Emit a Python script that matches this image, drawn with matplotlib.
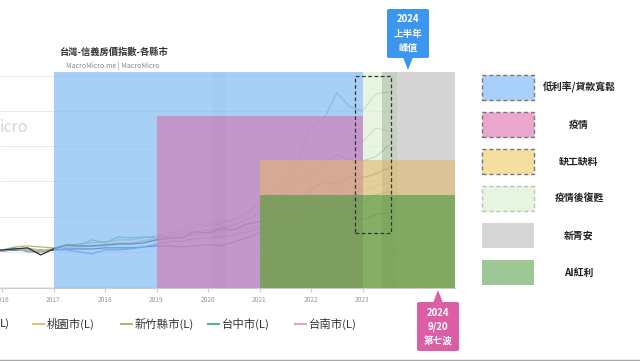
import matplotlib
matplotlib.use("Agg")
import matplotlib.pyplot as plt
import pandas as pd
from matplotlib.patches import Rectangle, FancyBboxPatch, Polygon
from matplotlib.lines import Line2D

plt.rcParams["font.family"] = ["Noto Sans CJK TC", "DejaVu Sans"]

# quarterly Sinyi house price index, by city
quarters = pd.period_range("2015Q4", "2023Q3", freq="Q")

taipei = [100.0, 100.6, 101.1, 101.7, 101.1, 101.1, 101.7, 101.7, 101.7, 102.3, 102.3, 102.3,
          102.8, 103.4, 103.4, 102.8, 103.4, 104.0, 103.4, 105.7, 108.0, 110.8, 111.4, 113.6,
          115.3, 118.2, 119.3, 121.0, 119.9, 118.2, 121.0, 122.2]
new_taipei = [100.0, 100.6, 101.1, 101.1, 100.6, 101.1, 101.1, 100.0, 98.9, 101.1, 101.1, 101.7,
              102.8, 104.5, 105.7, 106.2, 107.4, 108.0, 108.5, 109.7, 111.4, 113.1, 115.3, 118.7,
              122.2, 125.6, 129.0, 130.7, 129.5, 128.4, 132.4, 134.1]
taoyuan = [100.0, 100.6, 101.7, 101.7, 101.1, 101.7, 102.8, 102.8, 103.4, 103.4, 104.5, 105.1,
           106.2, 106.8, 107.4, 108.5, 109.7, 110.2, 111.4, 112.5, 113.6, 114.8, 117.0, 119.9,
           123.9, 129.5, 134.1, 135.8, 137.5, 134.6, 137.5, 139.2]
hsinchu = [100.6, 101.1, 102.8, 103.4, 102.8, 102.3, 104.0, 104.5, 105.1, 105.7, 106.8, 106.8,
           108.0, 109.1, 110.8, 111.4, 113.6, 114.8, 115.9, 118.2, 122.7, 127.8, 134.1, 140.9,
           153.4, 171.0, 175.5, 190.3, 182.4, 180.1, 189.7, 190.9]
taichung = [100.0, 100.6, 102.3, 100.0, 100.0, 101.7, 103.4, 104.0, 106.8, 105.1, 108.5, 108.0,
            108.5, 108.0, 109.1, 110.2, 111.4, 112.5, 113.6, 115.3, 118.2, 122.7, 127.3, 132.4,
            138.1, 145.4, 149.4, 155.1, 152.3, 151.7, 154.0, 160.2]
tainan = [100.0, 100.6, 101.7, 101.1, 100.6, 101.7, 102.8, 103.4, 103.4, 104.0, 105.1, 105.1,
          106.2, 108.0, 110.8, 113.6, 114.8, 116.5, 117.0, 118.7, 121.0, 127.3, 132.4, 138.1,
          146.6, 157.9, 161.9, 168.7, 161.9, 162.5, 170.4, 168.7]
kaohsiung = [100.6, 101.1, 101.7, 102.3, 98.3, 101.7, 104.0, 103.4, 103.4, 104.0, 104.5, 104.5,
             105.1, 106.8, 108.0, 108.0, 111.4, 110.8, 113.1, 112.5, 115.9, 117.0, 119.3, 123.9,
             129.5, 135.2, 139.8, 138.1, 142.6, 142.0, 144.3, 147.7]

series_names = ["台北市(L)", "新北市(L)", "桃園市(L)", "新竹縣市(L)", "台中市(L)", "台南市(L)", "高雄市(L)"]
series_values = [taipei, new_taipei, taoyuan, hsinchu, taichung, tainan, kaohsiung]
series_colors = ["#23408e", "#4f86e8", "#e3c273", "#9dc46c", "#4fb7a0", "#e2a6c4", "#2a2a2a"]

year_ticks = [2016, 2017, 2018, 2019, 2020, 2021, 2022, 2023]

W, H = 640, 361


def fx(px):
    return px / W


def fy(py):
    return 1 - py / H


x = quarters.year + (quarters.quarter - 1) / 4

fig = plt.figure(figsize=(6.4, 3.61), dpi=100)
ax = fig.add_axes([0, fy(288), fx(455), (288 - 72) / H])
x_end = 2016 + 453 / 51.5
ax.set_xlim(2016 - 2 / 51.5, x_end)
ax.set_ylim(79.5, 202.2)

for vals, c in zip(series_values, series_colors):
    ax.plot(x, vals, color=c, lw=0.9, zorder=2)

ax.set_yticks(range(80, 201, 20))
ax.tick_params(axis="y", left=False, labelleft=False)
ax.grid(axis="y", color="#e6e6e6", lw=0.6)
ax.set_axisbelow(True)
for s in ["left", "right", "top"]:
    ax.spines[s].set_visible(False)
ax.spines["bottom"].set_color("#cccccc")
ax.spines["bottom"].set_linewidth(0.8)
ax.set_xticks(year_ticks)
ax.set_xticklabels([str(y) for y in year_ticks])
ax.tick_params(axis="x", length=3, color="#cccccc", labelsize=4.8, labelcolor="#999999", pad=3)

# overlays
ax.axvspan(2017.0, 2023.0, 0, 1, color="#83bcf5", alpha=0.7, lw=0, zorder=3)
ax.axvspan(2019.0, 2023.0, 0, 0.796, color="#d180b9", alpha=0.7, lw=0, zorder=3.1)
ax.axvspan(2020.08, 2020.33, 0, 1, color="black", alpha=0.025, lw=0, zorder=3.2)
ax.axvspan(2023.0, 2023.67, 0, 1, color="#def1d3", alpha=0.7, lw=0, zorder=3.3)
ax.axvspan(2023.67, x_end, 0, 1, color="#d1d1d1", alpha=0.9, lw=0, zorder=3.4)
ax.axvspan(2023.38, 2023.67, 0, 1, color="black", alpha=0.14, lw=0, zorder=3.5)
ax.axvspan(2021.0, x_end, 0, 0.593, color="#e1b66e", alpha=0.6, lw=0, zorder=3.6)
ax.axvspan(2021.0, x_end, 0, 0.431, color="#389537", alpha=0.55, lw=0, zorder=3.7)

ax.add_patch(Rectangle((2022.854, 110.8), 2023.553 - 2022.854, 200 - 110.8, fill=False,
                       ec="#333333", lw=0.9, ls=(0, (3, 2)), zorder=6))

# title
fig.text(fx(59), fy(52), "台灣-信義房價指數-各縣市", fontsize=6.7, weight="bold",
         color="#333333", va="center")
fig.text(fx(66), fy(66), "MacroMicro.me | MacroMicro", fontsize=5, color="#888888", va="center")
fig.text(0, fy(128), "icro", fontsize=11.5, color="#d5d5d5", va="center", ha="left")

# callouts
fig.add_artist(FancyBboxPatch((fx(387), fy(58)), fx(42), 49 / H, boxstyle="round,pad=0,rounding_size=0.004",
                              transform=fig.transFigure, fc="#3c95ee", ec="none"))
fig.add_artist(Polygon([(fx(403), fy(57)), (fx(413), fy(57)), (fx(408), fy(70))],
                       transform=fig.transFigure, fc="#3c95ee", ec="none"))
fig.text(fx(408), fy(33.5), "2024\n上半年\n峰值", fontsize=6.9, weight="bold", color="white",
         ha="center", va="center", linespacing=1.5)

fig.add_artist(FancyBboxPatch((fx(417), fy(351)), fx(42), 49 / H, boxstyle="round,pad=0,rounding_size=0.004",
                              transform=fig.transFigure, fc="#dc5fa6", ec="none"))
fig.add_artist(Polygon([(fx(433), fy(303)), (fx(443), fy(303)), (fx(438), fy(290))],
                       transform=fig.transFigure, fc="#dc5fa6", ec="none"))
fig.text(fx(438), fy(327), "2024\n9/20\n第七波", fontsize=6.9, weight="bold", color="white",
         ha="center", va="center", linespacing=1.5)

# right-hand legend for the zones
legend_labels = ["低利率/貸款寬鬆", "疫情", "缺工缺料", "疫情後復甦", "新青安", "AI紅利"]
legend_fills = ["#a8d0f8", "#eaa6cc", "#f5dea0", "#e6f5df", "#d6d6d6", "#9dc896"]
legend_edges = ["#777777", "#777777", "#777777", "#c0c0c0", "none", "none"]
box_tops = [75, 112, 149, 186, 223, 260]
for lab, fc, ec, top in zip(legend_labels, legend_fills, legend_edges, box_tops):
    fig.add_artist(Rectangle((fx(482), fy(top + 25)), fx(52), 25 / H, transform=fig.transFigure,
                             fc=fc, ec=ec, lw=1, ls=(0, (3, 2))))
    fig.text(fx(579), fy(top + 12.5), lab, fontsize=7.1, weight="bold", color="#222222",
             ha="center", va="center")

# bottom series legend (partly cut off on the left)
fig.text(0, fy(324), "L)", fontsize=8.2, color="#333333", va="center", ha="left")
handle_x = [33, 121, 208, 295]
for i, hx in zip([2, 3, 4, 5], handle_x):
    fig.add_artist(Line2D([fx(hx), fx(hx + 11)], [fy(324), fy(324)], transform=fig.transFigure,
                          color=series_colors[i], lw=1.5))
    fig.text(fx(hx + 14), fy(324), series_names[i], fontsize=8.2, color="#333333", va="center")

fig.add_artist(Line2D([0, 1], [fy(360), fy(360)], transform=fig.transFigure, color="#aaaaaa", lw=1))

fig.savefig("out.png", dpi=100)
